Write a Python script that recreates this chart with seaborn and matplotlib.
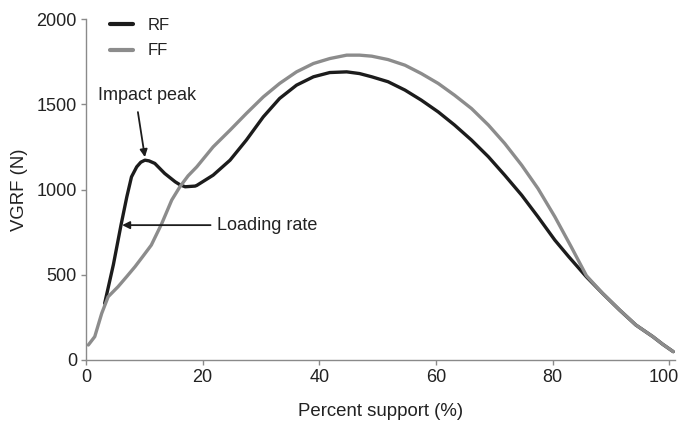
import numpy as np
import pandas as pd
import matplotlib
matplotlib.use("Agg")
import matplotlib.pyplot as plt
import matplotlib.transforms as mtransforms
import seaborn as sns

# ---- data ----
rf_x = [3.2, 4.7, 6.0, 7.0, 7.8, 8.7, 9.4, 10.1, 10.8, 11.8, 13.5, 15.3, 16.1, 17.0,
        18.7, 19.0, 21.8, 24.7, 27.5, 30.4, 33.2, 36.1, 39.0, 41.8, 44.7, 46.9,
        49.0, 51.8, 54.7, 57.5, 60.4, 63.2, 66.1, 69.0, 71.8, 74.7, 77.5, 80.4,
        82.8, 85.8, 88.6, 91.5, 94.3, 97.2, 98.9, 100.7]
rf_y = [332, 560, 791, 957, 1074, 1133, 1160, 1172, 1168, 1153, 1094, 1045, 1028, 1016,
        1020, 1024, 1084, 1172, 1290, 1426, 1534, 1612, 1661, 1686, 1690, 1680,
        1661, 1632, 1583, 1524, 1455, 1378, 1290, 1192, 1084, 967, 840, 703,
        605, 488, 390, 293, 205, 137, 92, 49]

ff_x = [0.4, 1.5, 2.7, 3.8, 5.5, 7.0, 8.4, 9.8, 11.2, 13.0, 14.7, 16.1, 17.5, 19.0,
        21.8, 24.7, 27.5, 30.4, 33.2, 36.1, 39.0, 41.8, 44.7, 46.9, 49.0, 51.8,
        54.7, 57.5, 60.4, 63.2, 66.1, 69.0, 71.8, 74.7, 77.5, 80.4, 83.2, 85.8,
        88.6, 91.5, 94.3, 97.2, 98.9, 100.7]
ff_y = [88, 137, 274, 371, 430, 490, 547, 610, 674, 801, 938, 1016, 1080, 1133,
        1250, 1348, 1446, 1543, 1622, 1690, 1739, 1768, 1788, 1788, 1782, 1762,
        1729, 1680, 1622, 1553, 1475, 1378, 1270, 1143, 1006, 840, 664, 495,
        390, 294, 205, 137, 92, 49]

series_names = ["RF", "FF"]
x_ticks = [0, 20, 40, 60, 80, 100]
y_ticks = [0, 500, 1000, 1500, 2000]

df = pd.concat([
    pd.DataFrame({"x": rf_x, "y": rf_y, "Group": "RF"}),
    pd.DataFrame({"x": ff_x, "y": ff_y, "Group": "FF"}),
], ignore_index=True)

sns.set_style("ticks")
plt.rcParams["font.family"] = ["Liberation Sans", "DejaVu Sans"]

fig = plt.figure(figsize=(6.81, 4.22), dpi=100)
ax = fig.add_axes([86 / 681, 1 - 360 / 422, 589 / 681, 341 / 422])

sns.lineplot(data=df, x="x", y="y", hue="Group", hue_order=series_names,
             palette={"RF": "#1c1c1c", "FF": "#8c8c8c"}, linewidth=2.4,
             sort=False, estimator=None, ax=ax,
             solid_joinstyle="round", solid_capstyle="round")

ax.set_xlim(0, 101)
ax.set_ylim(0, 2000)
ax.set_xticks(x_ticks)
ax.set_yticks(y_ticks)
ax.tick_params(axis="both", labelsize=13, colors="#222222", length=3.5,
               width=1.0, color="#8a8a8a", pad=3)
for s in ["top", "right"]:
    ax.spines[s].set_visible(False)
for s in ["left", "bottom"]:
    ax.spines[s].set_color("#8a8a8a")
    ax.spines[s].set_linewidth(1.0)

# nudge the last x tick label slightly left so it stays inside the canvas
lbls = ax.get_xticklabels()
lbls[-1].set_transform(lbls[-1].get_transform() +
                       mtransforms.ScaledTranslation(-5 / 100, 0, fig.dpi_scale_trans))

ax.set_xlabel("Percent support (%)", fontsize=13.4, color="#222222", labelpad=12)
ax.set_ylabel("VGRF (N)", fontsize=13.4, color="#222222", labelpad=6)

leg = ax.legend(loc="upper left", bbox_to_anchor=(0.015, 1.047), frameon=False,
                fontsize=12, handlelength=1.4, handletextpad=0.85,
                labelspacing=0.63)
for t in leg.get_texts():
    t.set_color("#222222")
for h in leg.get_lines():
    h.set_linewidth(3.0)

ax.text(10.4, 1553, "Impact peak", ha="center", va="center", fontsize=13,
        color="#222222")
ax.annotate("", xy=(10.1, 1190), xytext=(8.9, 1454),
            arrowprops=dict(arrowstyle="-|>", color="#1c1c1c", lw=1.3,
                            mutation_scale=11, shrinkA=0, shrinkB=0))
ax.annotate("Loading rate", xy=(6.2, 791), xytext=(22.4, 791),
            ha="left", va="center", fontsize=13, color="#222222",
            arrowprops=dict(arrowstyle="-|>", color="#1c1c1c", lw=1.3,
                            mutation_scale=11, shrinkA=2, shrinkB=0))

fig.savefig("out.png", dpi=100)
